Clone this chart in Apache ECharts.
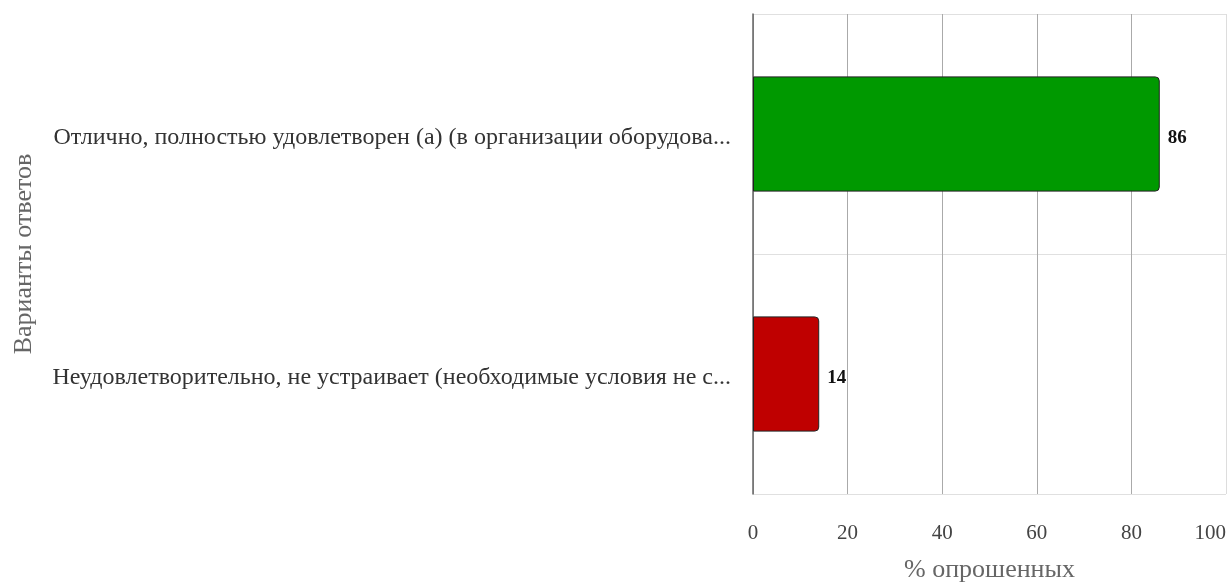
<!DOCTYPE html>
<html><head><meta charset="utf-8">
<script src="https://cdn.jsdelivr.net/npm/echarts@6/dist/echarts.min.js"></script>
<style>html,body{margin:0;padding:0;background:#fff}#c{width:1230px;height:584px}</style>
</head><body><div id="c"></div>
<script>
const categories = [
  "Отлично, полностью удовлетворен (а) (в организации оборудова...",
  "Неудовлетворительно, не устраивает (необходимые условия не с..."
];
const values = [86, 14];
const barColors = ["#009900", "#bf0000"];
const xTicks = [0, 20, 40, 60, 80, 100];
const xAxisName = "% опрошенных";
const yAxisName = "Варианты ответов";

const FONT = '"Liberation Serif", "DejaVu Serif", serif';
const chart = echarts.init(document.getElementById('c'), null, {renderer: 'canvas'});
chart.setOption({
  animation: false,
  grid: {left: 753, right: 4, top: 14, bottom: 90, containLabel: false, outerBoundsMode: 'none'},
  xAxis: {
    type: 'value', min: xTicks[0], max: xTicks[xTicks.length - 1], interval: 20,
    name: xAxisName, nameLocation: 'middle', nameGap: 63,
    nameTextStyle: {fontFamily: FONT, fontSize: 26, color: '#666'},
    axisLine: {show: false}, axisTick: {show: false},
    axisLabel: {fontFamily: FONT, fontSize: 21, color: '#444', margin: 29, alignMaxLabel: 'right'},
    splitLine: {show: true, lineStyle: {color: ['#aaa', '#aaa', '#aaa', '#aaa', '#aaa', '#ddd'], width: 1}}
  },
  yAxis: {
    type: 'category', data: categories, inverse: true,
    name: yAxisName, nameLocation: 'middle', nameGap: 716, nameRotate: 90,
    nameTextStyle: {fontFamily: FONT, fontSize: 26, color: '#666'},
    axisLine: {show: true, lineStyle: {color: '#666', width: 1.5}},
    axisTick: {show: false},
    axisLabel: {fontFamily: FONT, fontSize: 24, color: '#333', margin: 22,
      verticalAlign: 'top', lineHeight: 8},
    splitLine: {show: true, lineStyle: {color: '#e0e0e0', width: 1}}
  },
  series: [{
    type: 'bar',
    data: values.map((v, i) => ({value: v, itemStyle: {color: barColors[i]}})),
    barWidth: '48%',
    itemStyle: {borderColor: '#222', borderWidth: 1, borderRadius: [0, 4, 4, 0]},
    label: {show: true, position: 'right', distance: 8, fontFamily: FONT, fontSize: 19, fontWeight: 'bold', color: '#111',
      verticalAlign: 'top', lineHeight: 8}
  }]
});
</script></body></html>
